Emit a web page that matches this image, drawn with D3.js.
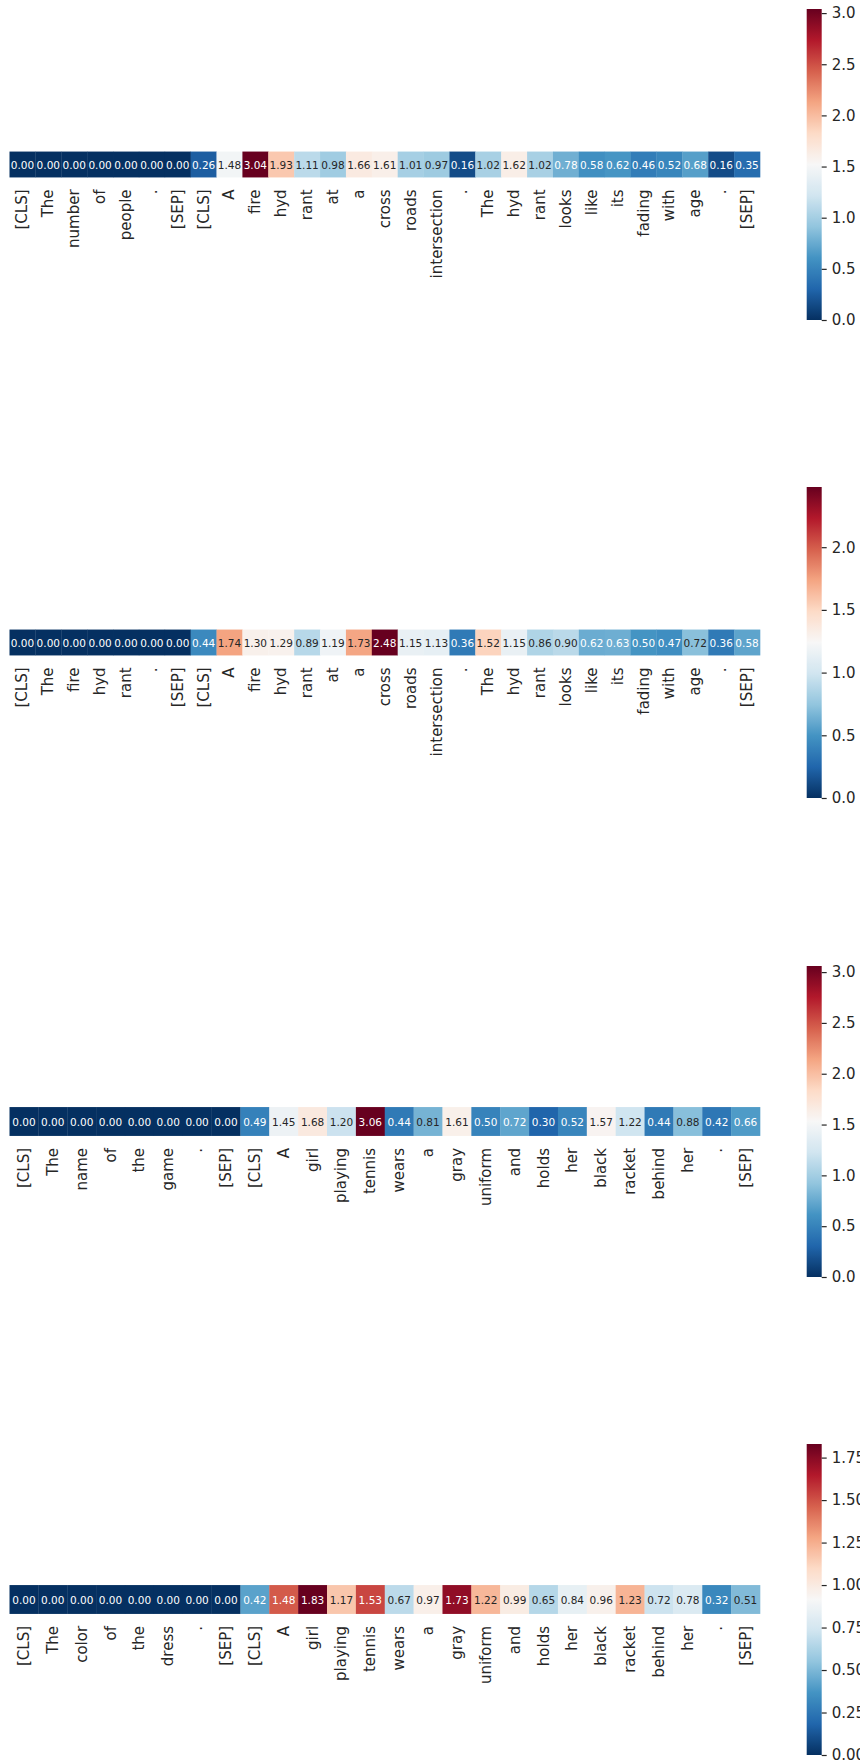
<!DOCTYPE html>
<html><head><meta charset="utf-8">
<script src="https://cdn.jsdelivr.net/npm/d3@7"></script>
<style>
body{margin:0;background:#fff}
text{font-family:"DejaVu Sans",sans-serif}
</style></head><body>
<svg id="chart" width="860" height="1764"></svg>
<script>
// ---------- data ----------
const tokens1 = ["[CLS]","The","number","of","people",".","[SEP]","[CLS]","A","fire","hyd","rant","at","a","cross","roads","intersection",".","The","hyd","rant","looks","like","its","fading","with","age",".","[SEP]"];
const values1 = [0.00,0.00,0.00,0.00,0.00,0.00,0.00,0.26,1.48,3.04,1.93,1.11,0.98,1.66,1.61,1.01,0.97,0.16,1.02,1.62,1.02,0.78,0.58,0.62,0.46,0.52,0.68,0.16,0.35];
const cbTicks1 = ["0.0","0.5","1.0","1.5","2.0","2.5","3.0"];

const tokens2 = ["[CLS]","The","fire","hyd","rant",".","[SEP]","[CLS]","A","fire","hyd","rant","at","a","cross","roads","intersection",".","The","hyd","rant","looks","like","its","fading","with","age",".","[SEP]"];
const values2 = [0.00,0.00,0.00,0.00,0.00,0.00,0.00,0.44,1.74,1.30,1.29,0.89,1.19,1.73,2.48,1.15,1.13,0.36,1.52,1.15,0.86,0.90,0.62,0.63,0.50,0.47,0.72,0.36,0.58];
const cbTicks2 = ["0.0","0.5","1.0","1.5","2.0"];

const tokens3 = ["[CLS]","The","name","of","the","game",".","[SEP]","[CLS]","A","girl","playing","tennis","wears","a","gray","uniform","and","holds","her","black","racket","behind","her",".","[SEP]"];
const values3 = [0.00,0.00,0.00,0.00,0.00,0.00,0.00,0.00,0.49,1.45,1.68,1.20,3.06,0.44,0.81,1.61,0.50,0.72,0.30,0.52,1.57,1.22,0.44,0.88,0.42,0.66];
const cbTicks3 = ["0.0","0.5","1.0","1.5","2.0","2.5","3.0"];

const tokens4 = ["[CLS]","The","color","of","the","dress",".","[SEP]","[CLS]","A","girl","playing","tennis","wears","a","gray","uniform","and","holds","her","black","racket","behind","her",".","[SEP]"];
const values4 = [0.00,0.00,0.00,0.00,0.00,0.00,0.00,0.00,0.42,1.48,1.83,1.17,1.53,0.67,0.97,1.73,1.22,0.99,0.65,0.84,0.96,1.23,0.72,0.78,0.32,0.51];
const cbTicks4 = ["0.00","0.25","0.50","0.75","1.00","1.25","1.50","1.75"];

const rdbuR = ["#053061","#2166ac","#4393c3","#92c5de","#d1e5f0","#f7f7f7","#fddbc7","#f4a582","#d6604d","#b2182b","#67001f"];

// ---------- layout ----------
const panels = [
  {tokens: tokens1, values: values1, ticks: cbTicks1, top: 9},
  {tokens: tokens2, values: values2, ticks: cbTicks2, top: 487},
  {tokens: tokens3, values: values3, ticks: cbTicks3, top: 966},
  {tokens: tokens4, values: values4, ticks: cbTicks4, top: 1444}
];
const hmLeft = 9.5, hmRight = 760;
const cbX = 806.7, cbW = 15, cbH = 311;
const ink = "#262626";

function relLum(c) {
  const rgb = d3.rgb(c);
  const f = v => { v /= 255; return v <= 0.03928 ? v / 12.92 : Math.pow((v + 0.055) / 1.055, 2.4); };
  return 0.2126 * f(rgb.r) + 0.7152 * f(rgb.g) + 0.0722 * f(rgb.b);
}

const svg = d3.select("#chart");
const defs = svg.append("defs");

panels.forEach((p, pi) => {
  const vmin = d3.min(p.values), vmax = d3.max(p.values);
  const color = d3.scaleLinear()
    .domain(d3.range(rdbuR.length).map(i => vmin + (vmax - vmin) * i / (rdbuR.length - 1)))
    .range(rdbuR).interpolate(d3.interpolateRgb);

  const x = d3.scaleBand().domain(d3.range(p.tokens.length)).range([hmLeft, hmRight]).padding(0);
  const cell = x.bandwidth();
  const centerY = p.top + cbH / 2;
  const hmTop = centerY - cell / 2;

  const g = svg.append("g");
  const cells = g.selectAll("g.cell").data(p.values).enter().append("g").attr("class", "cell");
  cells.append("rect")
    .attr("x", (d, i) => x(i)).attr("y", hmTop)
    .attr("width", cell + 0.3).attr("height", cell)
    .attr("fill", d => color(d));
  cells.append("text")
    .attr("x", (d, i) => x(i) + cell / 2).attr("y", hmTop + cell / 2)
    .attr("text-anchor", "middle").attr("dominant-baseline", "central")
    .attr("font-size", 10.5)
    .attr("fill", d => relLum(color(d)) > 0.408 ? ink : "#ffffff")
    .text(d => d3.format(".2f")(d));

  // token labels
  g.selectAll("text.tok").data(p.tokens).enter().append("text")
    .attr("class", "tok")
    .attr("transform", (d, i) => `translate(${x(i) + cell / 2},${hmTop + cell + 12}) rotate(-90)`)
    .attr("text-anchor", "end").attr("dominant-baseline", "central")
    .attr("font-size", 15).attr("fill", ink)
    .text(d => d);

  // colorbar
  const gid = "grad" + pi;
  const grad = defs.append("linearGradient").attr("id", gid)
    .attr("x1", 0).attr("y1", 1).attr("x2", 0).attr("y2", 0);
  d3.range(0, 101).forEach(k => {
    grad.append("stop").attr("offset", k + "%").attr("stop-color", color(vmin + (vmax - vmin) * k / 100));
  });
  svg.append("rect").attr("x", cbX).attr("y", p.top).attr("width", cbW).attr("height", cbH)
    .attr("fill", `url(#${gid})`);
  const yc = d3.scaleLinear().domain([vmin, vmax]).range([p.top + cbH, p.top]);
  const axis = d3.axisRight(yc).tickValues(p.ticks.map(Number))
    .tickFormat((d, i) => p.ticks[i]).tickSize(5).tickPadding(5);
  const ag = svg.append("g").attr("transform", `translate(${cbX + cbW},0)`).call(axis);
  ag.select(".domain").remove();
  ag.selectAll(".tick line").attr("stroke", ink).attr("stroke-width", 1.2);
  ag.selectAll(".tick text").attr("fill", ink).attr("font-size", 15)
    .attr("font-family", '"DejaVu Sans",sans-serif');
});
</script>
</body></html>
